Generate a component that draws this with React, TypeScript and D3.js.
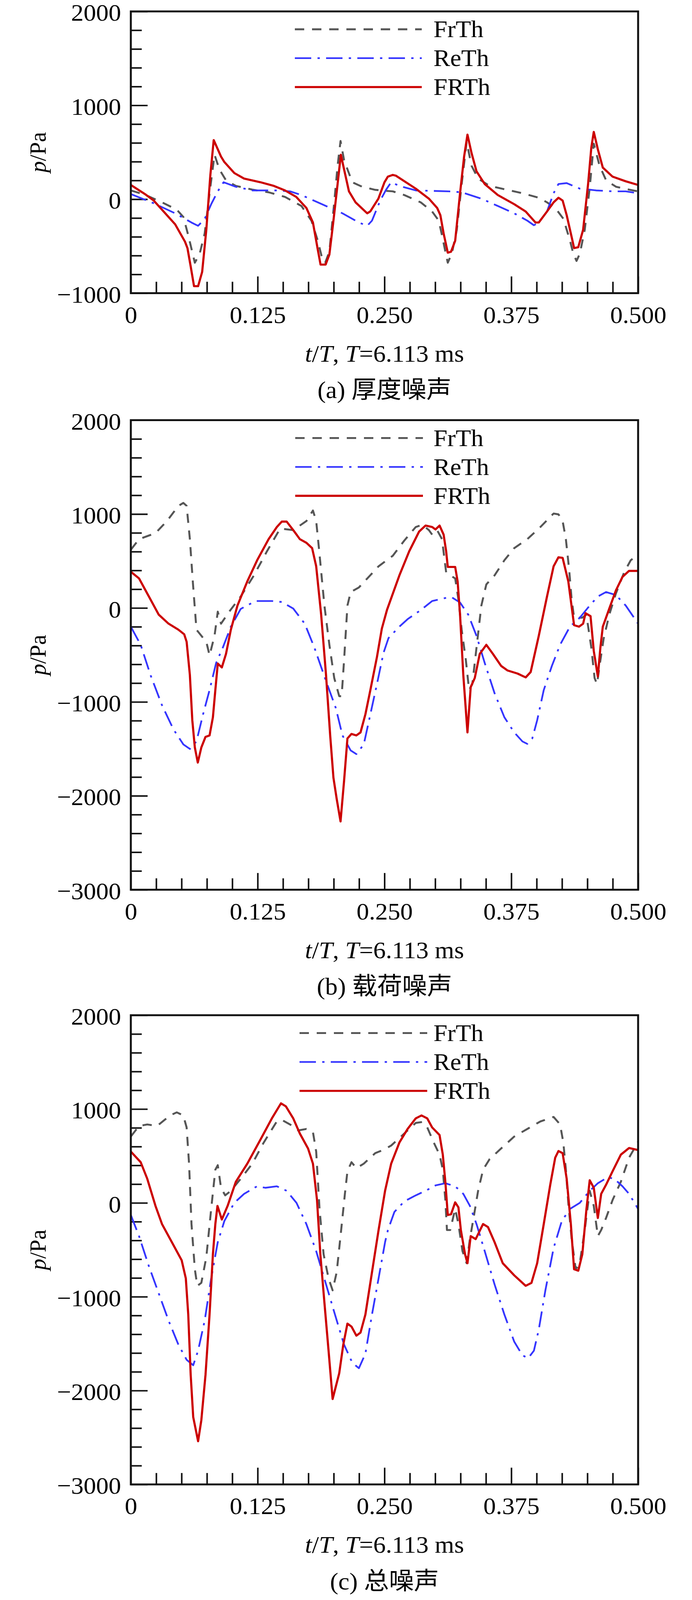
import React, { useEffect, useRef } from "react";
import * as d3 from "d3";

type Pt = [number, number];

// ---- data: [t/T, p (Pa)] ----
const tickT = [0, 0.125, 0.25, 0.375, 0.5];
const tickTLabels = ["0", "0.125", "0.250", "0.375", "0.500"];
const seriesNames = ["FrTh", "ReTh", "FRTh"];
const captions = ["(a) 厚度噪声", "(b) 载荷噪声", "(c) 总噪声"];
const yTicksA = [2000, 1000, 0, -1000];
const yTicksBC = [2000, 1000, 0, -1000, -2000, -3000];

// (a) thickness noise
const thicknessFrTh: Pt[] = [
  [0, 94], [0.0146, 45], [0.0307, -33], [0.0453, -111], [0.0518, -189], [0.0566, -384],
  [0.0631, -676], [0.0679, -579], [0.0728, -364], [0.0776, 64], [0.0825, 474], [0.0873, 318],
  [0.0938, 201], [0.1035, 142], [0.1197, 103], [0.1358, 74], [0.152, 25], [0.1682, -72],
  [0.178, -228], [0.1843, -442], [0.1892, -657], [0.1916, -676], [0.1957, -559], [0.2005, -33],
  [0.2038, 357], [0.2067, 620], [0.2102, 415], [0.2183, 181], [0.228, 133], [0.241, 100],
  [0.2506, 90], [0.2582, 84], [0.2695, 45], [0.2857, -33], [0.297, -131], [0.3035, -228],
  [0.3067, -384], [0.3108, -598], [0.3124, -676], [0.3164, -579], [0.3213, -325], [0.3261, 162],
  [0.331, 610], [0.3358, 357], [0.3423, 220], [0.3536, 142], [0.3698, 103], [0.386, 64],
  [0.4021, 16], [0.4102, -33], [0.4183, -92], [0.4264, -209], [0.4329, -442], [0.4361, -579],
  [0.4393, -657], [0.4426, -579], [0.4474, -325], [0.4523, 123], [0.4563, 591], [0.462, 357],
  [0.4685, 201], [0.4782, 133], [0.491, 103], [0.5, 84],
];
const thicknessReTh: Pt[] = [
  [0, 55], [0.0226, -43], [0.0437, -150], [0.0598, -248], [0.0663, -283], [0.0728, -209],
  [0.0792, -53], [0.0857, 84], [0.0914, 181], [0.1035, 133], [0.1197, 94], [0.144, 94],
  [0.157, 84], [0.168, 45], [0.1843, -33], [0.2086, -150], [0.2248, -248], [0.233, -283],
  [0.2377, -228], [0.2458, -14], [0.2517, 103], [0.2566, 181], [0.2647, 142], [0.2808, 94],
  [0.3132, 84], [0.3261, 74], [0.3455, 6], [0.3617, -72], [0.3779, -150], [0.3908, -228],
  [0.3973, -277], [0.4021, -248], [0.4102, -131], [0.4167, 64], [0.4215, 162], [0.4296, 172],
  [0.4425, 113], [0.4587, 94], [0.4749, 84], [0.4878, 84], [0.5, 64],
];
const thicknessFRTh: Pt[] = [
  [0, 152], [0.0146, 50], [0.0226, -14], [0.0307, -111], [0.0437, -267], [0.0534, -452],
  [0.0558, -520], [0.059, -715], [0.0623, -926], [0.0663, -926], [0.0703, -774], [0.0744, -325],
  [0.0784, 259], [0.0817, 630], [0.0889, 454], [0.0922, 396], [0.102, 279], [0.1116, 220],
  [0.1278, 181], [0.141, 142], [0.152, 94], [0.163, 25], [0.173, -92], [0.1795, -248],
  [0.184, -520], [0.187, -696], [0.192, -696], [0.1957, -589], [0.1997, -228], [0.2038, 162],
  [0.207, 474], [0.215, 84], [0.2215, -33], [0.233, -150], [0.236, -130], [0.244, 6],
  [0.25, 181], [0.2533, 240], [0.2582, 259], [0.2614, 250], [0.2808, 113], [0.2938, 6],
  [0.3019, -92], [0.3051, -170], [0.3083, -364], [0.3124, -569], [0.3156, -559], [0.3197, -442],
  [0.3245, 64], [0.3285, 454], [0.3318, 688], [0.3358, 493], [0.3407, 298], [0.3488, 162],
  [0.3617, 45], [0.3779, -53], [0.3892, -131], [0.3989, -248], [0.4021, -248], [0.4102, -131],
  [0.4167, -33], [0.4215, 16], [0.4256, -14], [0.4296, -170], [0.4345, -403], [0.4369, -520],
  [0.441, -511], [0.4458, -325], [0.4507, 162], [0.4539, 552], [0.4563, 717], [0.4603, 532],
  [0.4652, 337], [0.4749, 240], [0.4878, 191], [0.5, 152],
];

// (b) loading noise
const loadingFrTh: Pt[] = [
  [0, 620], [0.0081, 733], [0.0243, 797], [0.0356, 926], [0.0469, 1087], [0.0518, 1119],
  [0.055, 1087], [0.0582, 733], [0.0613, 251], [0.0647, -231], [0.0695, -296], [0.0744, -360],
  [0.0776, -505], [0.0825, -296], [0.0857, -39], [0.0889, -167], [0.097, -39], [0.1083, 122],
  [0.1213, 347], [0.1342, 604], [0.1472, 846], [0.1601, 829], [0.1731, 926], [0.1795, 1038],
  [0.1827, 926], [0.186, 572], [0.1908, 26], [0.1957, -392], [0.2005, -746], [0.2054, -939],
  [0.2078, -939], [0.2102, -553], [0.2135, 26], [0.2167, 170], [0.2248, 219], [0.2345, 331],
  [0.2442, 444], [0.2582, 556], [0.2695, 717], [0.2808, 862], [0.2873, 887], [0.2938, 829],
  [0.297, 781], [0.3019, 829], [0.3067, 733], [0.3108, 379], [0.3148, 347], [0.3197, 315],
  [0.3229, 90], [0.3261, -231], [0.3302, -553], [0.3334, -874], [0.3366, -810], [0.3407, -424],
  [0.3455, 26], [0.3504, 251], [0.3585, 347], [0.3682, 508], [0.3779, 637], [0.3908, 733],
  [0.4037, 862], [0.4167, 1006], [0.4215, 997], [0.4256, 926], [0.4288, 733], [0.432, 412],
  [0.4345, 90], [0.4369, -103], [0.445, -103], [0.449, -71], [0.4539, -424], [0.4571, -746],
  [0.4595, -810], [0.462, -617], [0.466, -328], [0.4716, -71], [0.4781, 154], [0.4862, 379],
  [0.4927, 508], [0.5, 572],
];
const loadingReTh: Pt[] = [
  [0, -199], [0.0097, -392], [0.0194, -714], [0.0307, -1035], [0.042, -1292], [0.0518, -1453],
  [0.0582, -1501], [0.0647, -1421], [0.0712, -1132], [0.0776, -874], [0.0841, -585], [0.0906, -424],
  [0.0986, -199], [0.1083, -10], [0.1229, 74], [0.1391, 74], [0.1488, 64], [0.1601, -6],
  [0.1714, -167], [0.181, -424], [0.1924, -778], [0.2021, -1067], [0.2086, -1357], [0.2167, -1517],
  [0.2223, -1556], [0.2296, -1453], [0.2361, -1132], [0.2426, -810], [0.249, -480], [0.254, -320],
  [0.2647, -199], [0.2728, -119], [0.2857, -23], [0.297, 74], [0.3099, 106], [0.3164, 113],
  [0.3245, 58], [0.3326, -71], [0.3407, -296], [0.3488, -585], [0.3585, -907], [0.3682, -1164],
  [0.3779, -1325], [0.386, -1421], [0.3908, -1447], [0.3957, -1389], [0.4005, -1196], [0.407, -874],
  [0.415, -617], [0.4231, -392], [0.4328, -199], [0.4426, -103], [0.4523, 26], [0.4603, 122],
  [0.4684, 170], [0.4781, 138], [0.4878, 26], [0.5, -167],
];
const loadingFRTh: Pt[] = [
  [0, 386], [0.0081, 315], [0.0178, 122], [0.0275, -71], [0.0372, -167], [0.0469, -231],
  [0.0526, -280], [0.055, -360], [0.0582, -714], [0.0606, -1196], [0.0631, -1485], [0.066, -1646],
  [0.0695, -1485], [0.0736, -1373], [0.0776, -1357], [0.0809, -1164], [0.0833, -874], [0.0857, -592],
  [0.0897, -633], [0.0938, -489], [0.0986, -231], [0.1051, 26], [0.1148, 283], [0.1245, 508],
  [0.1358, 733], [0.1439, 862], [0.1488, 920], [0.1536, 920], [0.1601, 829], [0.1666, 733],
  [0.1731, 694], [0.1787, 637], [0.1827, 444], [0.1876, -71], [0.1924, -714], [0.1965, -1357],
  [0.1997, -1807], [0.2029, -2032], [0.2067, -2273], [0.2102, -1839], [0.2135, -1389], [0.2175, -1341],
  [0.2223, -1357], [0.2264, -1325], [0.2312, -1132], [0.2361, -874], [0.2426, -521], [0.2474, -220],
  [0.2525, -20], [0.2647, 347], [0.2744, 604], [0.2841, 813], [0.2905, 878], [0.297, 862],
  [0.3003, 836], [0.3043, 878], [0.3083, 781], [0.3108, 604], [0.3124, 437], [0.3197, 437],
  [0.3221, 283], [0.3245, -71], [0.3277, -714], [0.3318, -1325], [0.335, -842], [0.339, -746],
  [0.3439, -489], [0.3504, -392], [0.3569, -489], [0.365, -617], [0.3714, -666], [0.3811, -698],
  [0.3892, -739], [0.3941, -682], [0.4021, -296], [0.4102, 122], [0.4167, 444], [0.4215, 540],
  [0.4256, 534], [0.4312, 283], [0.4369, -183], [0.4417, -199], [0.4458, -167], [0.4482, -55],
  [0.4531, -87], [0.4563, -457], [0.4603, -730], [0.4628, -424], [0.4652, -199], [0.4716, -6],
  [0.4781, 186], [0.4846, 331], [0.491, 395], [0.5, 395],
];

// (c) total noise
const totalFrTh: Pt[] = [
  [0, 707], [0.0081, 820], [0.0162, 836], [0.0259, 820], [0.0388, 932], [0.0453, 965],
  [0.0517, 932], [0.055, 804], [0.0574, 418], [0.0598, -225], [0.0631, -707], [0.0655, -884],
  [0.0695, -852], [0.0744, -579], [0.0792, -64], [0.0833, 354], [0.0857, 402], [0.0889, 161],
  [0.093, 80], [0.0986, 129], [0.1083, 257], [0.1197, 418], [0.131, 643], [0.1439, 868],
  [0.1488, 884], [0.1569, 836], [0.165, 772], [0.1731, 788], [0.1795, 755], [0.1827, 547],
  [0.186, -64], [0.19, -547], [0.1949, -804], [0.1989, -932], [0.2029, -739], [0.207, -322],
  [0.211, 96], [0.2135, 338], [0.2175, 434], [0.2223, 370], [0.2296, 418], [0.2409, 530],
  [0.2485, 563], [0.2566, 611], [0.2679, 723], [0.2808, 852], [0.2873, 862], [0.2922, 804],
  [0.2986, 643], [0.3043, 514], [0.3075, 354], [0.31, 32], [0.3116, -289], [0.3148, -289],
  [0.3197, -64], [0.3229, -225], [0.3269, -514], [0.331, -643], [0.3342, -386], [0.3383, -129],
  [0.3423, 129], [0.3472, 354], [0.3536, 466], [0.3649, 579], [0.3779, 707], [0.3908, 788],
  [0.4037, 868], [0.4167, 916], [0.4231, 836], [0.4263, 643], [0.4288, 354], [0.4312, 0],
  [0.4345, -386], [0.4385, -707], [0.4425, -643], [0.4474, -289], [0.4523, 129], [0.4563, -32],
  [0.4603, -354], [0.4636, -289], [0.4684, -161], [0.4749, 32], [0.483, 225], [0.4911, 482],
  [0.5, 650],
];
const totalReTh: Pt[] = [
  [0, -129], [0.0081, -354], [0.0178, -675], [0.0275, -964], [0.0372, -1254], [0.0469, -1511],
  [0.055, -1672], [0.0615, -1730], [0.0663, -1575], [0.0728, -1254], [0.0792, -804], [0.0857, -418],
  [0.0922, -193], [0.1019, 0], [0.1116, 96], [0.1245, 177], [0.1326, 161], [0.1439, 177],
  [0.1536, 129], [0.1633, 0], [0.173, -225], [0.1827, -514], [0.1924, -868], [0.2021, -1222],
  [0.2102, -1511], [0.2183, -1704], [0.2248, -1762], [0.2312, -1607], [0.2377, -1190], [0.2442, -804],
  [0.2506, -418], [0.2534, -289], [0.2598, -96], [0.2695, 16], [0.2808, 80], [0.2905, 129],
  [0.3003, 186], [0.31, 209], [0.3197, 177], [0.3277, 96], [0.3342, -32], [0.3407, -225],
  [0.3488, -514], [0.3585, -868], [0.3682, -1190], [0.3779, -1479], [0.386, -1624], [0.3916, -1656],
  [0.3973, -1575], [0.4021, -1350], [0.4086, -932], [0.4167, -482], [0.4248, -193], [0.4328, -64],
  [0.4425, 0], [0.4523, 129], [0.4603, 209], [0.47, 273], [0.4765, 257], [0.4846, 177],
  [0.4911, 96], [0.5, -64],
];
const totalFRTh: Pt[] = [
  [0, 547], [0.0097, 434], [0.0162, 257], [0.0243, -32], [0.0307, -225], [0.0404, -418],
  [0.0501, -611], [0.0542, -804], [0.0566, -1190], [0.059, -1833], [0.0615, -2283], [0.0663, -2540],
  [0.0695, -2315], [0.0736, -1833], [0.0776, -1190], [0.0809, -547], [0.0833, -225], [0.0854, -32],
  [0.0897, -177], [0.0954, -32], [0.1035, 225], [0.1148, 418], [0.1278, 675], [0.139, 900],
  [0.148, 1061], [0.1528, 1029], [0.1601, 900], [0.1666, 739], [0.1747, 579], [0.1795, 418],
  [0.1835, 32], [0.1868, -547], [0.1908, -1061], [0.1949, -1575], [0.1989, -2090], [0.2054, -1816],
  [0.2094, -1511], [0.2135, -1286], [0.2175, -1318], [0.2223, -1415], [0.2264, -1382], [0.2312, -1190],
  [0.2377, -739], [0.2442, -289], [0.2506, 129], [0.2566, 418], [0.2647, 643], [0.2728, 788],
  [0.2808, 900], [0.2865, 932], [0.2922, 900], [0.297, 804], [0.3043, 723], [0.3075, 514],
  [0.31, 225], [0.3124, -129], [0.3156, -122], [0.3197, 6], [0.3229, -48], [0.3253, -289],
  [0.3294, -547], [0.3318, -643], [0.335, -354], [0.3399, -386], [0.3472, -225], [0.352, -257],
  [0.3585, -418], [0.3666, -643], [0.3779, -772], [0.3892, -884], [0.3949, -852], [0.4005, -643],
  [0.407, -225], [0.4134, 193], [0.4183, 482], [0.4215, 553], [0.4256, 530], [0.4296, 257],
  [0.4337, -225], [0.4369, -707], [0.441, -723], [0.445, -547], [0.4491, -64], [0.4523, 241],
  [0.4563, 161], [0.4603, -161], [0.4636, 96], [0.4684, 193], [0.4749, 338], [0.483, 514],
  [0.4911, 585], [0.5, 563],
];

// ---- layout & styles ----
const W = 1772;
const H = 4208;
const plotLeft = 335;
const plotRight = 1634;
const serif = "'Liberation Serif', 'Times New Roman', 'Noto Sans CJK SC', serif";
const fontSize = 64;

const lineStyles = [
  { color: "#555555", width: 5, dash: "24 20" },
  { color: "#3535ff", width: 4.5, dash: "42 16 6 16" },
  { color: "#cc0000", width: 5.5, dash: null as string | null },
];

const panels = [
  {
    top: 30, bottom: 771, domain: [-1000, 2000], yTicks: yTicksA,
    series: [thicknessFrTh, thicknessReTh, thicknessFRTh], caption: captions[0],
    legendX: [755, 1080],
  },
  {
    top: 1105, bottom: 2340, domain: [-3000, 2000], yTicks: yTicksBC,
    series: [loadingFrTh, loadingReTh, loadingFRTh], caption: captions[1],
    legendX: [756, 1083],
  },
  {
    top: 2670, bottom: 3904, domain: [-3000, 2000], yTicks: yTicksBC,
    series: [totalFrTh, totalReTh, totalFRTh], caption: captions[2],
    legendX: [767, 1094],
  },
];

const fmtY = (v: number) => (v < 0 ? "\u2212" + Math.abs(v) : String(v));

export default function App() {
  const svgRef = useRef<SVGSVGElement>(null);

  useEffect(() => {
    const svg = d3.select(svgRef.current);
    svg.selectAll("*").remove();

    const x = d3.scaleLinear().domain([0, 0.5]).range([plotLeft, plotRight]);
    const minorX = d3.range(0, 0.5001, 0.025).filter((t) => !tickT.some((m) => Math.abs(m - t) < 1e-6));

    panels.forEach((p) => {
      const y = d3.scaleLinear().domain(p.domain).range([p.bottom, p.top]);
      const g = svg.append("g");
      const minorY = d3
        .range(p.domain[0], p.domain[1] + 1, 200)
        .filter((v) => v % 1000 !== 0);

      const styleAxis = (s: any) => {
        s.select(".domain").remove();
        s.selectAll("line").attr("stroke", "#111").attr("stroke-width", 4);
        s.attr("font-family", serif).attr("font-size", fontSize);
        s.selectAll("text").attr("fill", "#000");
      };

      // y axis ticks (inward)
      g.append("g")
        .attr("transform", `translate(${plotLeft},0)`)
        .call(d3.axisLeft(y).tickValues(minorY).tickSize(-28).tickFormat(() => ""))
        .call(styleAxis);
      g.append("g")
        .attr("transform", `translate(${plotLeft},0)`)
        .call(
          d3.axisLeft(y).tickValues(p.yTicks).tickSize(-43).tickPadding(25)
            .tickFormat((d) => fmtY(d as number))
        )
        .call(styleAxis)
        .call((s) => s.selectAll("text").attr("dy", "0.38em"));

      // x axis ticks (inward)
      g.append("g")
        .attr("transform", `translate(0,${p.bottom})`)
        .call(d3.axisBottom(x).tickValues(minorX).tickSize(-30).tickFormat(() => ""))
        .call(styleAxis);
      g.append("g")
        .attr("transform", `translate(0,${p.bottom})`)
        .call(
          d3.axisBottom(x).tickValues(tickT).tickSize(-44).tickPadding(33)
            .tickFormat((_, i) => tickTLabels[i])
        )
        .call(styleAxis);

      // curves
      const line = d3
        .line<Pt>()
        .x((d) => x(d[0]))
        .y((d) => y(d[1]));
      p.series.forEach((data, si) => {
        const st = lineStyles[si];
        g.append("path")
          .datum(data)
          .attr("d", line)
          .attr("fill", "none")
          .attr("stroke", st.color)
          .attr("stroke-width", st.width)
          .attr("stroke-linejoin", "round")
          .attr("stroke-dasharray", st.dash);
      });

      // frame
      g.append("rect")
        .attr("x", plotLeft)
        .attr("y", p.top)
        .attr("width", plotRight - plotLeft)
        .attr("height", p.bottom - p.top)
        .attr("fill", "none")
        .attr("stroke", "#111")
        .attr("stroke-width", 5);

      // legend
      seriesNames.forEach((name, si) => {
        const st = lineStyles[si];
        const ly = p.top + 47 + 76 * si;
        g.append("line")
          .attr("x1", p.legendX[0])
          .attr("x2", p.legendX[1])
          .attr("y1", ly)
          .attr("y2", ly)
          .attr("stroke", st.color)
          .attr("stroke-width", st.width)
          .attr("stroke-dasharray", st.dash);
        g.append("text")
          .attr("x", 1110)
          .attr("y", ly + 21)
          .attr("font-family", serif)
          .attr("font-size", fontSize)
          .text(name);
      });

      // y title
      const yt = g
        .append("text")
        .attr("transform", `translate(117,${(p.top + p.bottom) / 2}) rotate(-90)`)
        .attr("text-anchor", "middle")
        .attr("font-family", serif)
        .attr("font-size", 60);
      yt.append("tspan").attr("font-style", "italic").text("p");
      yt.append("tspan").text("/Pa");

      // x title
      const xt = g
        .append("text")
        .attr("x", (plotLeft + plotRight) / 2)
        .attr("y", p.bottom + 180)
        .attr("text-anchor", "middle")
        .attr("font-family", serif)
        .attr("font-size", fontSize);
      xt.append("tspan").attr("font-style", "italic").text("t");
      xt.append("tspan").text("/");
      xt.append("tspan").attr("font-style", "italic").text("T");
      xt.append("tspan").text(", ");
      xt.append("tspan").attr("font-style", "italic").text("T");
      xt.append("tspan").text("=6.113 ms");

      // caption
      g.append("text")
        .attr("x", (plotLeft + plotRight) / 2)
        .attr("y", p.bottom + 276)
        .attr("text-anchor", "middle")
        .attr("font-family", serif)
        .attr("font-size", fontSize)
        .text(p.caption);
    });
  }, []);

  // fit the whole figure into the visible viewport height
  return (
    <svg
      ref={svgRef}
      viewBox={`0 0 ${W} ${H}`}
      preserveAspectRatio="none"
      style={{
        position: "absolute",
        left: 0,
        top: 0,
        width: W,
        height: "100vh",
        maxHeight: H,
        background: "#fff",
      }}
    />
  );
}
